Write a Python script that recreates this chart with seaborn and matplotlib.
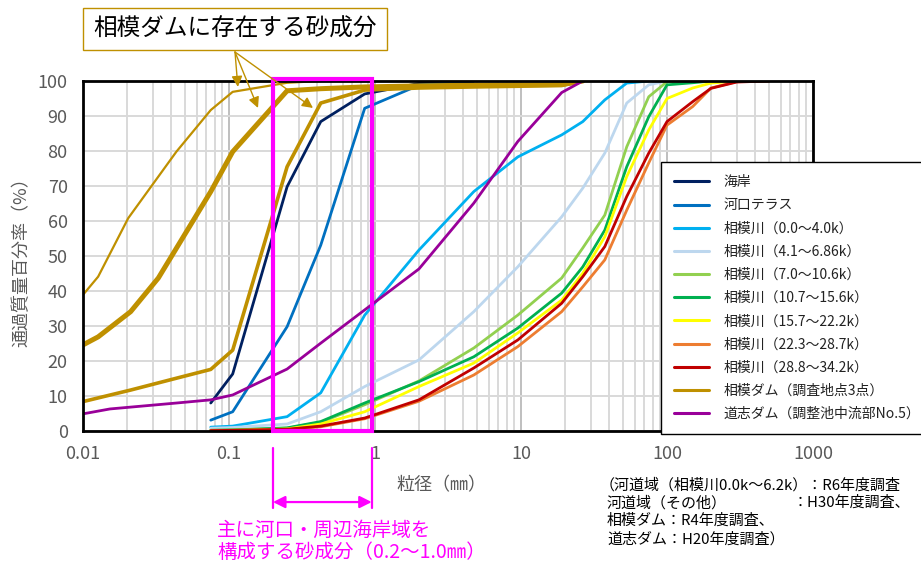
import numpy as np
import matplotlib
matplotlib.use("Agg")
import matplotlib.pyplot as plt
import seaborn as sns
from matplotlib.lines import Line2D
from matplotlib.patches import Rectangle
from matplotlib.ticker import FixedLocator, LogLocator, NullFormatter

# ふるい目 (mm)
sieve = [0.075, 0.106, 0.25, 0.425, 0.85, 2.0, 4.75, 9.5, 19.0, 26.5,
         37.5, 53.0, 75.0, 100.0, 150.0, 200.0, 300.0, 500.0]

# 通過質量百分率 (%)
kaigan = [8.0, 16.3, 69.8, 88.4, 96.3, 99.3, 100.0]
kakou_terrace = [3.1, 5.5, 29.8, 53.1, 92.2, 98.8, 100.0]
sagami_00_40 = [1.1, 1.4, 4.1, 10.9, 33.1, 51.7, 68.4, 78.3, 84.6, 88.4, 94.6, 99.4, 100.0]
sagami_41_686 = [0.8, 1.0, 2.0, 5.5, 12.7, 20.3, 34.1, 46.9, 61.2, 69.4, 79.4, 93.7, 98.9, 100.0]
sagami_70_106 = [0.2, 0.3, 0.8, 2.5, 7.5, 14.3, 23.7, 33.1, 43.7, 52.3, 61.7, 81.2, 95.5, 99.8, 100.0]
sagami_107_156 = [0.2, 0.3, 0.9, 2.7, 8.0, 14.1, 21.2, 29.4, 39.4, 46.9, 57.4, 75.5, 89.8, 98.9, 99.5, 100.0]
sagami_157_222 = [0.1, 0.2, 0.6, 2.0, 5.5, 12.7, 19.4, 28.0, 37.4, 45.1, 55.5, 72.7, 86.0, 95.0, 98.0, 99.4, 100.0]
sagami_223_287 = [0.1, 0.1, 0.4, 1.2, 3.5, 8.5, 16.0, 24.1, 34.1, 41.2, 48.9, 63.1, 76.6, 87.4, 92.7, 98.0, 99.8, 100.0]
sagami_288_342 = [0.1, 0.2, 0.5, 1.4, 3.7, 8.9, 18.0, 26.0, 36.5, 44.1, 52.7, 67.0, 79.4, 88.4, 94.1, 97.9, 99.7, 100.0]

# 相模ダム (調査地点3点) : 沈降分析を含む
dam_a_size = [0.010, 0.0127, 0.0204, 0.0436, 0.075, 0.106, 0.25, 0.425]
dam_a_pass = [38.9, 44.1, 60.8, 79.8, 91.7, 96.9, 99.5, 100.0]
dam_b_size = [0.010, 0.0127, 0.0212, 0.0328, 0.075, 0.106, 0.25, 0.425, 0.85, 2.0, 4.75, 9.5, 19.0, 26.5]
dam_b_pass = [24.6, 26.9, 34.1, 43.7, 68.4, 79.8, 97.2, 97.8, 98.3, 98.6, 98.8, 98.9, 99.0, 100.0]
dam_c_size = [0.010, 0.0212, 0.0438, 0.075, 0.106, 0.25, 0.425, 0.85, 2.0, 4.75, 9.5, 19.0, 26.5]
dam_c_pass = [8.4, 11.7, 15.1, 17.6, 23.1, 75.5, 93.7, 97.4, 98.0, 98.3, 98.5, 98.7, 100.0]

# 道志ダム (調整池中流部No.5)
doshi_size = [0.010, 0.0153, 0.0438, 0.075, 0.106, 0.25, 0.425, 0.85, 2.0, 4.75, 9.5, 19.0, 26.5]
doshi_pass = [4.9, 6.3, 8.0, 8.9, 10.3, 17.7, 25.1, 34.6, 46.3, 65.1, 82.7, 96.7, 100.0]

river_series = [
    ("海岸", kaigan, "#002060"),
    ("河口テラス", kakou_terrace, "#0070C0"),
    ("相模川（0.0〜4.0k）", sagami_00_40, "#00B0F0"),
    ("相模川（4.1〜6.86k）", sagami_41_686, "#BDD7EE"),
    ("相模川（7.0〜10.6k）", sagami_70_106, "#92D050"),
    ("相模川（10.7〜15.6k）", sagami_107_156, "#00B050"),
    ("相模川（15.7〜22.2k）", sagami_157_222, "#FFFF00"),
    ("相模川（22.3〜28.7k）", sagami_223_287, "#ED7D31"),
    ("相模川（28.8〜34.2k）", sagami_288_342, "#C00000"),
]
dam_label = "相模ダム（調査地点3点）"
dam_color = "#BF9000"
doshi_label = "道志ダム（調整池中流部No.5）"
doshi_color = "#990099"

x_ticks = [0.01, 0.1, 1, 10, 100, 1000]
x_ticklabels = ["0.01", "0.1", "1", "10", "100", "1000"]
y_ticks = list(range(0, 101, 10))

sand_range = (0.2, 0.95)   # 主に河口・周辺海岸域を構成する砂成分
arrow_targets = [(0.115, 98.3), (0.158, 92.3), (0.376, 92.3)]

sns.set_style("white")
plt.rcParams['font.family'] = ['Noto Sans CJK JP', 'DejaVu Sans']

W, H = 921, 563
fig = plt.figure(figsize=(W / 100, H / 100), dpi=100)
ax = fig.add_axes([83 / W, 1 - 431 / H, 730 / W, 350 / H])

for label, vals, color in river_series:
    sns.lineplot(x=sieve[:len(vals)], y=vals, ax=ax, color=color, lw=2.0,
                 estimator=None, sort=False)
for size, vals, lw in [(dam_a_size, dam_a_pass, 1.6), (dam_c_size, dam_c_pass, 2.6),
                       (dam_b_size, dam_b_pass, 3.6)]:
    sns.lineplot(x=size, y=vals, ax=ax, color=dam_color, lw=lw, estimator=None, sort=False)
sns.lineplot(x=doshi_size, y=doshi_pass, ax=ax, color=doshi_color, lw=2.0,
             estimator=None, sort=False)

ax.set_xscale("log")
ax.set_xlim(0.01, 1000)
ax.set_ylim(0, 100)
ax.xaxis.set_major_locator(FixedLocator(x_ticks))
ax.set_xticklabels(x_ticklabels)
ax.xaxis.set_minor_locator(LogLocator(base=10, subs=np.arange(2, 10)))
ax.xaxis.set_minor_formatter(NullFormatter())
ax.set_yticks(y_ticks)
ax.set_xlabel("")
ax.set_ylabel("")
ax.set_axisbelow(True)
ax.xaxis.grid(True, which="minor", color="#D9D9D9", lw=1.4)
ax.xaxis.grid(True, which="major", color="#BFBFBF", lw=1.4)
ax.yaxis.grid(True, which="major", color="#D9D9D9", lw=1.4)
ax.tick_params(axis="both", which="both", length=0, labelsize=13, labelcolor="#595959")
ax.tick_params(axis="x", pad=10)
ax.tick_params(axis="y", pad=11)
for sp in ax.spines.values():
    sp.set_color("black")
    sp.set_linewidth(2)
if ax.get_legend():
    ax.get_legend().remove()

# 砂成分の範囲
ax.add_patch(Rectangle((sand_range[0], 0), sand_range[1] - sand_range[0], 100.5,
                       fill=False, ec="#FF00FF", lw=3, zorder=6, clip_on=False))
tr = ax.get_xaxis_transform()
for xv in sand_range:
    ax.plot([xv, xv], [-0.049, -0.22], transform=tr, color="#FF00FF", lw=1.6, clip_on=False)
ax.annotate("", xy=(sand_range[1], -0.203), xycoords=tr, xytext=(sand_range[0], -0.203),
            textcoords=tr, annotation_clip=False,
            arrowprops=dict(arrowstyle="<|-|>", color="#FF00FF", lw=1.6,
                            shrinkA=0, shrinkB=0, mutation_scale=18))
fig.text(217 / W, 1 - 530 / H, "主に河口・周辺海岸域を", fontsize=14, color="#FF00FF",
         ha="left", va="center")
fig.text(217 / W, 1 - 553 / H, "構成する砂成分（0.2〜1.0㎜）", fontsize=14, color="#FF00FF",
         ha="left", va="center")

# 相模ダムの注記
fig.text(235 / W, 1 - 29 / H, "相模ダムに存在する砂成分", fontsize=17, color="black",
         ha="center", va="center",
         bbox=dict(boxstyle="square,pad=0.42", fc="white", ec=dam_color, lw=1))
for hx, hy in arrow_targets:
    ax.annotate("", xy=(hx, hy), xycoords="data", xytext=(235 / W, 1 - 52 / H),
                textcoords="figure fraction", annotation_clip=False, zorder=7,
                arrowprops=dict(arrowstyle="-|>", color=dam_color, lw=1,
                                shrinkA=0, shrinkB=0, mutation_scale=16))

# 軸ラベル
fig.text(22 / W, 1 - 258 / H, "通過質量百分率（%）", rotation=90, fontsize=13,
         color="#595959", ha="center", va="center")
fig.text(441 / W, 1 - 485 / H, "粒径（㎜）", fontsize=13, color="#595959",
         ha="center", va="center")

# 凡例
handles = [Line2D([], [], color=c, lw=2.2) for _, _, c in river_series]
labels = [lab for lab, _, _ in river_series]
handles += [Line2D([], [], color=dam_color, lw=2.2), Line2D([], [], color=doshi_color, lw=2.2)]
labels += [dam_label, doshi_label]
leg = fig.legend(handles, labels, loc="upper left", bbox_to_anchor=(661 / W, 1 - 162 / H),
                 fontsize=10, frameon=True, fancybox=False, framealpha=1,
                 edgecolor="black", handlelength=2.5, handletextpad=1.05,
                 borderpad=0.95, labelspacing=0.66, borderaxespad=0)
leg.get_frame().set_linewidth(1)
for t in leg.get_texts():
    t.set_color("#222222")

# 調査年度
note_kw = dict(fontsize=10.8, color="black", ha="left", va="center")
fig.text(600 / W, 1 - 485 / H, "（河道域（相模川0.0k〜6.2k）：R6年度調査", **note_kw)
fig.text(607 / W, 1 - 503 / H, "河道域（その他）", **note_kw)
fig.text(793 / W, 1 - 503 / H, "：H30年度調査、", **note_kw)
fig.text(607 / W, 1 - 521 / H, "相模ダム：R4年度調査、", **note_kw)
fig.text(607 / W, 1 - 539 / H, "道志ダム：H20年度調査）", **note_kw)

fig.savefig("out.png", dpi=100)
